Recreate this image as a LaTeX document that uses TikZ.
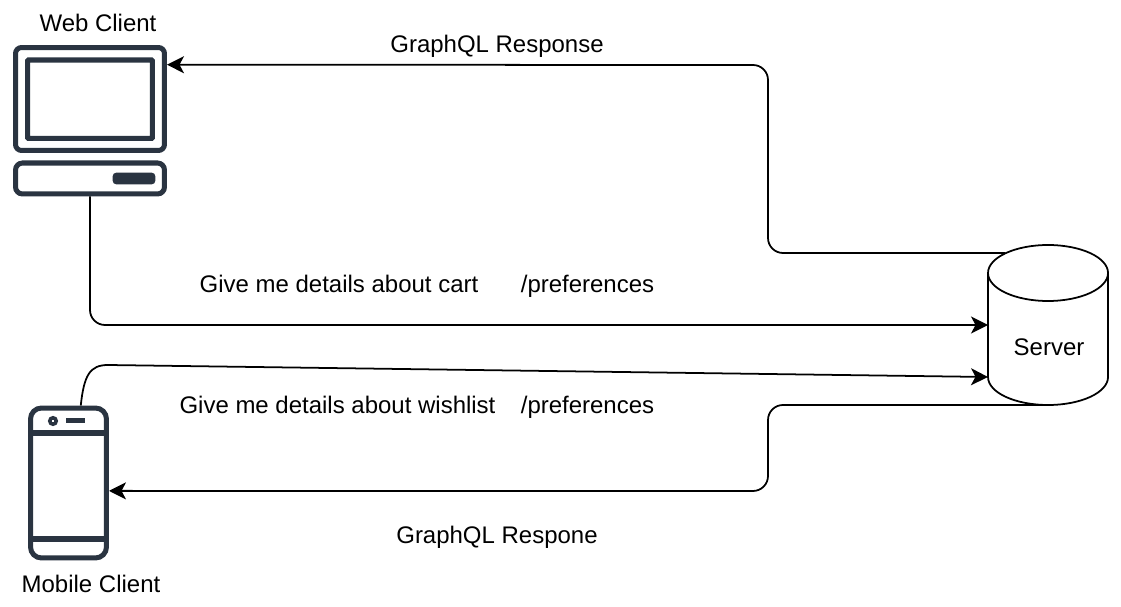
\documentclass[tikz,border=0pt]{standalone}
\usepackage{fontspec}
\setmainfont{Liberation Sans}
\usetikzlibrary{arrows.meta}
\definecolor{icondark}{HTML}{2A3441}
\tikzset{
  lbl/.style={font=\fontsize{13.65}{16}\selectfont, inner sep=0pt, anchor=base},
  tip/.style={-{Stealth[length=0.34cm, width=0.34cm, inset=0.09cm]}},
  flow/.style={line width=1pt, rounded corners=0.3cm, tip},
  iconbox/.style={draw=icondark, line width=2.85pt, rounded corners=0.12cm, inner sep=0pt}
}
\begin{document}
\begin{tikzpicture}[x=0.02cm, y=-0.02cm]
    \useasboundingbox (0,0) rectangle (1121,607);
    % web client
    \draw ( 98, 32) node [lbl] (webname) {Web Client}
          ( 90, 99) node [iconbox, minimum width=2.98cm, minimum height=2.06cm] (webmonitor) {}
          ( 90, 99.25) node [iconbox, rounded corners=0.02cm, minimum width=2.5cm, minimum height=1.57cm] (webscreen) {}
          ( 90,178.5) node [iconbox, rounded corners=0.14cm, minimum width=2.98cm, minimum height=0.62cm] (webbase) {}
          (134,178.5) node [iconbox, fill=icondark, line width=1pt, rounded corners=0.06cm, minimum width=0.82cm, minimum height=0.2cm] (webslot) {};
    % mobile client
    \draw ( 91,592) node [lbl] (mobilename) {Mobile Client}
          (68.5,483) node [iconbox, rounded corners=0.22cm, minimum width=1.52cm, minimum height=3cm] (mobile) {}
          (53,421) node [circle, draw=icondark, line width=2pt, minimum size=0.13cm, inner sep=0pt] (mobilecam) {}
          (75.5,420.5) node [fill=icondark, minimum width=0.38cm, minimum height=0.11cm, inner sep=0pt] (mobilespk) {};
    \draw [icondark, line width=2.85pt] (mobile.west |- 0,433) -- (mobile.east |- 0,433)
          (mobile.west |- 0,539) -- (mobile.east |- 0,539);
    % server
    \node [minimum width=2.4cm, minimum height=3.2cm, inner sep=0pt, outer sep=0pt] (server) at (1048,325) {};
    \draw [line width=1pt] (server.west |- 0,273) arc [start angle=180, end angle=-180, x radius=60, y radius=28]
          (server.west |- 0,273) -- (server.west |- 0,377)
          arc [start angle=180, end angle=0, x radius=60, y radius=28] -- (server.east |- 0,273);
    \node [lbl] (servername) at (1049,356) {Server};
    % connector ends and bends
    \coordinate (servertop) at (1005,253);
    \coordinate (serverwish) at (988,377);
    \coordinate (bendup) at (768,65);
    \coordinate (benddown) at (768,491);
    \coordinate (bendcart) at (90,325);
    \draw [flow] (servertop) -| (bendup) -- (webmonitor.24);
    \draw [flow] (webbase.south) -- (bendcart) -- (server.west);
    \draw [line width=1pt, tip]
          (mobile.81) .. controls (84,375) and (90,365) .. (108,365) -- (serverwish);
    \draw [flow] (server.south) -| (benddown) -- (mobile.-11);
    % labels
    \draw (497, 53) node [lbl] (resptop) {GraphQL Response}
          (339,293) node [lbl] (askcart) {Give me details about cart}
          (587.5,293) node [lbl] (prefcart) {/preferences}
          (337.5,413) node [lbl] (askwish) {Give me details about wishlist}
          (587.5,413) node [lbl] (prefwish) {/preferences}
          (497,543) node [lbl] (respbottom) {GraphQL Respone};
\end{tikzpicture}
\end{document}
